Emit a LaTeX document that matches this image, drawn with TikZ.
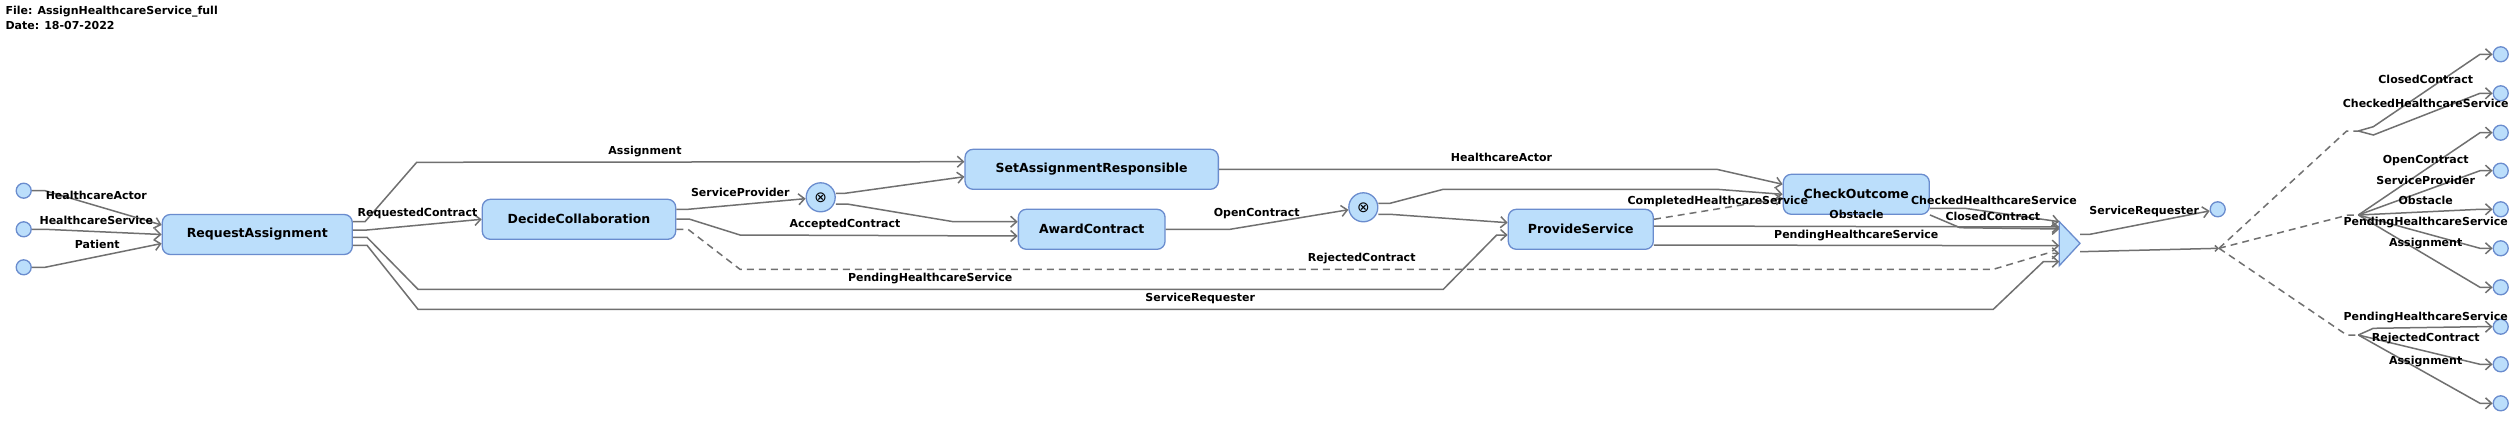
\documentclass[tikz,border=0pt]{standalone}
\usepackage{fontspec}
\setmainfont{DejaVu Sans}
\usetikzlibrary{arrows.meta}
\definecolor{boxfill}{RGB}{187,222,251}
\definecolor{boxdraw}{RGB}{106,140,206}
\definecolor{edgec}{RGB}{112,112,112}
\begin{document}
\begin{tikzpicture}[x=1pt,y=-1pt,
  task/.style={draw=boxdraw, fill=boxfill, line width=1.3pt, rounded corners=8pt, minimum height=40pt, inner sep=0pt, font=\bfseries\fontsize{12.5}{14}\selectfont},
  port/.style={circle, draw=boxdraw, fill=boxfill, line width=1.3pt, minimum size=15pt, inner sep=0pt},
  gate/.style={circle, draw=boxdraw, fill=boxfill, line width=1.3pt, minimum size=29pt, inner sep=0pt, font=\fontsize{15}{15}\selectfont},
  flow/.style={draw=edgec, line width=1.5pt, -{Straight Barb[length=6pt,width=11pt]}},
  dflow/.style={flow, dash pattern=on 7pt off 5pt},
  dline/.style={draw=edgec, line width=1.5pt, dash pattern=on 7pt off 5pt},
  smallflow/.style={draw=edgec, line width=1.5pt, -{Straight Barb[length=3pt,width=6pt]}},
  lab/.style={font=\bfseries\fontsize{11}{13}\selectfont, inner sep=0pt, anchor=base},
  ttl/.style={font=\bfseries\fontsize{11}{13}\selectfont, inner sep=0pt, anchor=base west}]
\useasboundingbox (0,0) rectangle (2516,444);
\fill[white] (0,0) rectangle (2516,444);

\node[ttl] (title1) at (5.3,15) {File: AssignHealthcareService\_full};
\node[ttl] (title2) at (5.3,30) {Date: 18-07-2022};

% tasks
\node[task, minimum width=190pt] (RA) at (257.3,234.5) {RequestAssignment};
\node[task, minimum width=193.4pt] (DC) at (579,219.3) {DecideCollaboration};
\node[task, minimum width=253.3pt] (SAR) at (1091.7,169.3) {SetAssignmentResponsible};
\node[task, minimum width=146.7pt] (AC) at (1091.7,229.3) {AwardContract};
\node[task, minimum width=145pt] (PS) at (1580.8,229.3) {ProvideService};
\node[task, minimum width=146pt] (CO) at (1856.3,194.3) {CheckOutcome};
\node[gate] (G1) at (820.7,197.3) {⊗};
\node[gate] (G2) at (1363.3,207.3) {⊗};

% merge triangle
\draw[draw=boxdraw, fill=boxfill, line width=1.3pt, line join=miter] (2059.3,221.7) -- (2080,243.3) -- (2059.3,265.7) -- cycle;
\coordinate (TRI) at (2059.3,243.3);
\coordinate (TRIo) at (2080,243.3);
\coordinate (F) at (2219,248.3);
\coordinate (B1) at (2358.3,131);
\coordinate (B2) at (2358.3,215);
\coordinate (B3) at (2358.3,335);

% ports
\node[port] (I1) at (23.7,190.7) {};
\node[port] (I2) at (23.7,229.3) {};
\node[port] (I3) at (23.7,267.3) {};
\node[port] (SRC) at (2217.7,209.3) {};
\node[port] (O1) at (2500.7,54.3) {};
\node[port] (O2) at (2500.7,93.3) {};
\node[port] (O3) at (2500.7,132.7) {};
\node[port] (O4) at (2500.7,170.7) {};
\node[port] (O5) at (2500.7,209.3) {};
\node[port] (O6) at (2500.7,248.3) {};
\node[port] (O7) at (2500.7,287.3) {};
\node[port] (O8) at (2500.7,326.7) {};
\node[port] (O9) at (2500.7,364.3) {};
\node[port] (O10) at (2500.7,403.3) {};

% input edges
\draw[flow] (I1) -- (45,190.7) -- (RA.west |- 0,225);
\draw[flow] (I2) -- (45,229.3) -- (RA.west |- 0,234.5);
\draw[flow] (I3) -- (45,267.3) -- (RA.west |- 0,243.5);

% RequestAssignment outputs
\draw[flow] (RA.east |- 0,221.7) -- (365,221.7) -- (416.7,162.3) -- (SAR.west |- 0,161.7);
\draw[flow] (RA.east |- 0,230) -- (367,230) -- (DC.west);
\draw[flow] (RA.east |- 0,237.3) -- (367,237.3) -- (418,289.3) -- (1443.3,289.3) -- (1496.7,235) -- (PS.west |- 0,235);
\draw[flow] (RA.east |- 0,245.3) -- (367,245.3) -- (418,309.3) -- (1993.3,309.3) -- (2043.3,261.7) -- (TRI |- 0,261.7);

% DecideCollaboration outputs
\draw[flow] (DC.east |- 0,209.3) -- (688,209.3) -- (G1);
\draw[flow] (DC.east |- 0,219) -- (689,219) -- (740,235) -- (AC.west |- 0,236);
\draw[dflow] (DC.east |- 0,229.3) -- (688,229.3) -- (740,269.3) -- (1993.3,269.3) -- (2047,253.3) -- (TRI |- 0,253.3);

% gateway 1 outputs
\draw[flow] (G1.east |- 0,193.3) -- (845,193.3) -- (SAR.west |- 0,176.7);
\draw[flow] (G1.east |- 0,204) -- (847,204) -- (953.3,221.7) -- (AC.west |- 0,221.7);

% SAR, AC outputs
\draw[flow] (SAR.east) -- (1716.7,169.3) -- (CO.west |- 0,184.3);
\draw[flow] (AC.east) -- (1230,229.3) -- (G2);

% gateway 2 outputs
\draw[flow] (G2.east |- 0,203.3) -- (1390,203.3) -- (1443.3,189.3) -- (1716.7,189.3) -- (CO.west |- 0,194.3);
\draw[flow] (G2.east |- 0,214.3) -- (1390,214.3) -- (PS.west |- 0,222.7);

% ProvideService outputs
\draw[dflow] (PS.east |- 0,219.3) -- (CO.west |- 0,198.3);
\draw[flow] (PS.east |- 0,226) -- (TRI |- 0,227);
\draw[flow] (PS.east |- 0,245) -- (TRI |- 0,245.7);

% CheckOutcome outputs
\draw[flow] (CO.east |- 0,208.3) -- (1965,208.3) -- (TRI |- 0,221.7);
\draw[flow] (CO.south east) -- (1960,227.7) -- (TRI |- 0,229);

% triangle outputs
\draw[flow] (TRIo |- 0,234.3) -- (2090,234.3) -- (SRC);
\draw[smallflow] (TRIo |- 0,251.7) -- (F);
\draw[dline] (F) -- (2346.7,131) -- (B1);
\draw[dline] (F) -- (2348.3,215) -- (B2);
\draw[dline] (F) -- (2346.7,335) -- (B3);

% fan-out edges
\draw[flow] (B1) -- (2373.3,126.7) -- (2480,54.3) -- (O1);
\draw[flow] (B1) -- (2373.3,135) -- (2480,93.3) -- (O2);
\draw[flow] (B2) -- (2480,132.7) -- (O3);
\draw[flow] (B2) -- (2480,170.7) -- (O4);
\draw[flow] (B2) -- (2480,209.3) -- (O5);
\draw[flow] (B2) -- (2480,248.3) -- (O6);
\draw[flow] (B2) -- (2480,287.3) -- (O7);
\draw[flow] (B3) -- (2373.3,328.3) -- (2480,326.7) -- (O8);
\draw[flow] (B3) -- (2480,364.3) -- (O9);
\draw[flow] (B3) -- (2480,403.3) -- (O10);

% labels
\node[lab] (l1) at (96.3,199) {HealthcareActor};
\node[lab] (l2) at (96.3,224) {HealthcareService};
\node[lab] (l3) at (97.2,248.3) {Patient};
\node[lab] (l4) at (417.5,216.7) {RequestedContract};
\node[lab] (l5) at (645,154) {Assignment};
\node[lab] (l6) at (740.3,196) {ServiceProvider};
\node[lab] (l7) at (845,227.7) {AcceptedContract};
\node[lab] (l8) at (930.2,281) {PendingHealthcareService};
\node[lab] (l9) at (1200.2,301) {ServiceRequester};
\node[lab] (l10) at (1256.7,216) {OpenContract};
\node[lab] (l11) at (1501.5,161.3) {HealthcareActor};
\node[lab] (l12) at (1361.7,261) {RejectedContract};
\node[lab] (l13) at (1717.8,204.3) {CompletedHealthcareService};
\node[lab] (l14) at (1856.5,218) {Obstacle};
\node[lab] (l15) at (1856.3,238) {PendingHealthcareService};
\node[lab] (l16) at (1994,204.7) {CheckedHealthcareService};
\node[lab] (l17) at (1992.8,220) {ClosedContract};
\node[lab] (l18) at (2144.2,214.3) {ServiceRequester};
\node[lab] (r1) at (2425.7,83.3) {ClosedContract};
\node[lab] (r2) at (2425.7,107.3) {CheckedHealthcareService};
\node[lab] (r3) at (2425.7,163.3) {OpenContract};
\node[lab] (r4) at (2425.7,184.3) {ServiceProvider};
\node[lab] (r5) at (2425.7,204.3) {Obstacle};
\node[lab] (r6) at (2425.7,225.3) {PendingHealthcareService};
\node[lab] (r7) at (2425.7,246) {Assignment};
\node[lab] (r8) at (2425.7,320) {PendingHealthcareService};
\node[lab] (r9) at (2425.7,341) {RejectedContract};
\node[lab] (r10) at (2425.7,364.3) {Assignment};
\end{tikzpicture}
\end{document}
